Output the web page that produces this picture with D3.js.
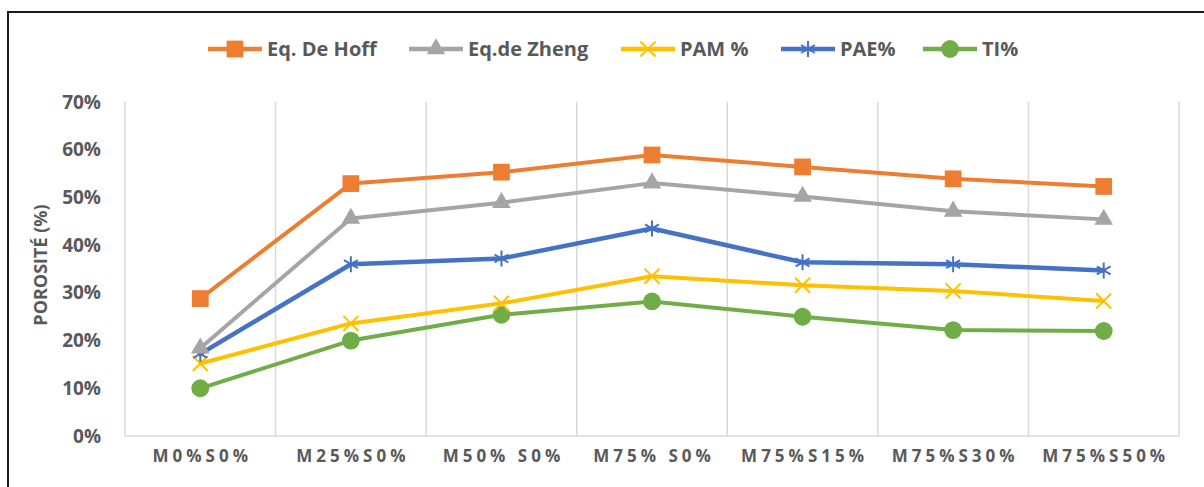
<!DOCTYPE html>
<html>
<head>
<meta charset="utf-8">
<script src="https://cdn.jsdelivr.net/npm/d3@7"></script>
<style>
  body { margin: 0; background: #fff; }
  text { font-family: "Open Sans", Lato, sans-serif; font-weight: bold; fill: #595959; }
</style>
</head>
<body>
<div id="chart"></div>
<script>
// data
const categories = ["M0%S0%", "M25%S0%", "M50% S0%", "M75% S0%", "M75%S15%", "M75%S30%", "M75%S50%"];
const hoff = [0.288, 0.529, 0.553, 0.589, 0.564, 0.539, 0.523];
const zheng = [0.184, 0.456, 0.489, 0.530, 0.502, 0.471, 0.454];
const pae = [0.172, 0.360, 0.372, 0.435, 0.364, 0.360, 0.347];
const pam = [0.152, 0.236, 0.278, 0.335, 0.316, 0.304, 0.283];
const ti = [0.100, 0.200, 0.254, 0.282, 0.250, 0.222, 0.220];
const yTicks = [0, 0.1, 0.2, 0.3, 0.4, 0.5, 0.6, 0.7];

// legend order
const series = [
    {name: "Eq. De Hoff", values: hoff, color: "#ED7D31", symbol: d3.symbolSquare, size: 280, fill: true, width: 4},
    {name: "Eq.de Zheng", values: zheng, color: "#A5A5A5", symbol: d3.symbolTriangle, size: 150, fill: true, width: 4},
    {name: "PAM %", values: pam, color: "#FFC000", symbol: d3.symbolTimes, size: 150, fill: false, width: 4},
    {name: "PAE%", values: pae, color: "#4472C4", symbol: d3.symbolAsterisk, size: 180, fill: false, width: 4.5},
    {name: "TI%", values: ti, color: "#70AD47", symbol: d3.symbolCircle, size: 250, fill: true, width: 4}
];
// drawing order (back to front)
const drawOrder = [4, 2, 3, 1, 0];

const W = 1204, H = 487;
const margin = {top: 102, right: 25, bottom: 51, left: 125};

const svg = d3.select("#chart")
    .append("svg")
    .attr("width", W)
    .attr("height", H);

// outer frame, cut by the picture on the right and bottom
svg.append("rect")
    .attr("x", 8).attr("y", 12)
    .attr("width", 1300).attr("height", 600)
    .attr("fill", "none")
    .attr("stroke", "#1a1a1a")
    .attr("stroke-width", 2);

const x = d3.scaleBand()
    .domain(categories)
    .range([margin.left, W - margin.right]);

const y = d3.scaleLinear()
    .domain([0, 0.7])
    .range([H - margin.bottom, margin.top]);

// vertical gridlines at category boundaries
const bounds = categories.map(c => x(c)).concat([x.range()[1]]);
svg.append("g")
    .selectAll("line")
    .data(bounds)
    .join("line")
    .attr("x1", d => d).attr("x2", d => d)
    .attr("y1", y(0.7)).attr("y2", y(0))
    .attr("stroke", "#D9D9D9")
    .attr("stroke-width", 1.5);

// bottom axis line
svg.append("line")
    .attr("x1", x.range()[0]).attr("x2", x.range()[1])
    .attr("y1", y(0)).attr("y2", y(0))
    .attr("stroke", "#D9D9D9")
    .attr("stroke-width", 1.5);

// y axis labels
const yAxis = svg.append("g")
    .attr("transform", `translate(${margin.left}, 0)`)
    .call(d3.axisLeft(y).tickValues(yTicks).tickFormat(d3.format(".0%")).tickSize(0).tickPadding(24));
yAxis.select(".domain").remove();
yAxis.selectAll("text").style("font-size", "19px").attr("fill", "#595959");

// x axis labels
const xAxis = svg.append("g")
    .attr("transform", `translate(0, ${y(0)})`)
    .call(d3.axisBottom(x).tickSize(0).tickPadding(14));
xAxis.select(".domain").remove();
xAxis.selectAll("text")
    .style("font-size", "17px")
    .style("letter-spacing", "4px")
    .attr("dx", 2)
    .attr("fill", "#595959");

// y axis title
svg.append("text")
    .attr("transform", `translate(47, ${(y(0) + y(0.7)) / 2 - 4}) rotate(-90)`)
    .attr("text-anchor", "middle")
    .style("font-size", "18px")
    .text("POROSITÉ (%)");

const line = d3.line()
    .x((d, i) => x(categories[i]) + x.bandwidth() / 2)
    .y(d => y(d));

drawOrder.forEach(k => {
    const s = series[k];
    const g = svg.append("g");
    g.append("path")
        .datum(s.values)
        .attr("fill", "none")
        .attr("stroke", s.color)
        .attr("stroke-width", s.width)
        .attr("stroke-linejoin", "round")
        .attr("d", line);
    g.selectAll("path.mark")
        .data(s.values)
        .join("path")
        .attr("class", "mark")
        .attr("transform", (d, i) => `translate(${x(categories[i]) + x.bandwidth() / 2}, ${y(d)})`)
        .attr("d", d3.symbol(s.symbol, s.size))
        .attr("fill", s.fill ? s.color : "none")
        .attr("stroke", s.color)
        .attr("stroke-width", s.fill ? 0 : 2);
});

// legend
const legendX = [208, 409, 621, 781, 923];
const legend = svg.append("g");
series.forEach((s, i) => {
    const lg = legend.append("g").attr("transform", `translate(${legendX[i]}, 49)`);
    lg.append("line")
        .attr("x1", 0).attr("x2", 54)
        .attr("stroke", s.color)
        .attr("stroke-width", 4.5);
    lg.append("path")
        .attr("transform", "translate(27, 0)")
        .attr("d", d3.symbol(s.symbol, s.size))
        .attr("fill", s.fill ? s.color : "none")
        .attr("stroke", s.color)
        .attr("stroke-width", s.fill ? 0 : 2);
    lg.append("text")
        .attr("x", 59)
        .attr("y", 7)
        .style("font-size", "20px")
        .text(s.name);
});
</script>
</body>
</html>
